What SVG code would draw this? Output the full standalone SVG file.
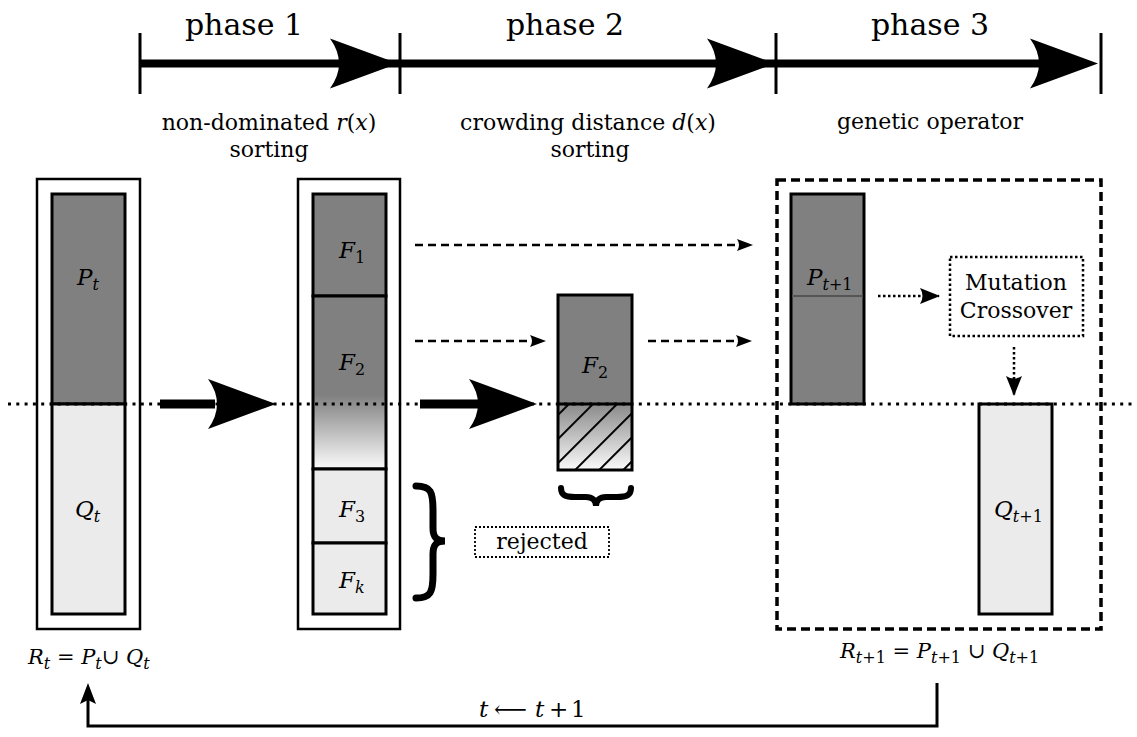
<svg xmlns="http://www.w3.org/2000/svg" width="1137" height="737" viewBox="0 0 1137 737">
<style>
.serif{font-family:"DejaVu Serif","Liberation Serif",serif;fill:#000}
.ph{font-size:30px}
.lb{font-size:22px}
.m{font-family:"DejaVu Serif","Liberation Serif",serif;font-style:italic;font-size:23px;fill:#000}
.f{font-size:21px}
.sub{font-size:16px}
.up{font-style:normal}
.box{stroke:#000;stroke-width:3}
.outer{fill:#fff;stroke:#000;stroke-width:2.5}
.dark{fill:#808080}
.light{fill:#ebebeb}
.dash{fill:none;stroke:#000;stroke-width:2.5;stroke-dasharray:8 5}
.dot{fill:none;stroke:#000;stroke-width:2.5;stroke-dasharray:2.5 2.5}
</style>
<defs>
<path id="bighead" d="M0,0 L-68,-25 Q-50,0 -68,25 Z" fill="#000"/>
<marker id="sm" viewBox="0 0 16 12" refX="15" refY="6" markerWidth="16" markerHeight="12" markerUnits="userSpaceOnUse" orient="auto">
<path d="M0,0 L16,6 L0,12 Q4,6 0,0 Z" fill="#000"/>
</marker>
<marker id="sm2" viewBox="0 0 20 16" refX="19" refY="8" markerWidth="20" markerHeight="16" markerUnits="userSpaceOnUse" orient="auto">
<path d="M0,0 L20,8 L0,16 Q5,8 0,0 Z" fill="#000"/>
</marker>
<linearGradient id="fade" gradientUnits="userSpaceOnUse" x1="0" y1="395" x2="0" y2="469">
<stop offset="0" stop-color="#808080"/>
<stop offset="1" stop-color="#fbfbfb"/>
</linearGradient>
<linearGradient id="fade2" gradientUnits="userSpaceOnUse" x1="0" y1="404" x2="0" y2="470">
<stop offset="0" stop-color="#8a8a8a"/>
<stop offset="1" stop-color="#fafafa"/>
</linearGradient>
<pattern id="hatch" patternUnits="userSpaceOnUse" width="17" height="17" patternTransform="rotate(45)">
<line x1="8" y1="0" x2="8" y2="17" stroke="#000" stroke-width="2"/>
</pattern>
</defs>

<g id="timeline">
<line x1="140" y1="63.5" x2="1060" y2="63.5" stroke="#000" stroke-width="8"/>
<g stroke="#000" stroke-width="3">
<line x1="140" y1="33" x2="140" y2="94"/>
<line x1="400" y1="33" x2="400" y2="94"/>
<line x1="776" y1="33" x2="776" y2="94"/>
<line x1="1101" y1="33" x2="1101" y2="94"/>
</g>
<use href="#bighead" transform="translate(398,63.5)"/>
<use href="#bighead" transform="translate(775,63.5)"/>
<use href="#bighead" transform="translate(1098,63.5)"/>
<text class="serif ph" x="244" y="35" text-anchor="middle">phase 1</text>
<text class="serif ph" x="565" y="35" text-anchor="middle">phase 2</text>
<text class="serif ph" x="930" y="35" text-anchor="middle">phase 3</text>
<text class="serif lb" x="269" y="130" text-anchor="middle">non-dominated <tspan font-style="italic">r</tspan>(<tspan font-style="italic">x</tspan>)</text>
<text class="serif lb" x="269" y="157" text-anchor="middle">sorting</text>
<text class="serif lb" x="588" y="130" text-anchor="middle">crowding distance <tspan font-style="italic">d</tspan>(<tspan font-style="italic">x</tspan>)</text>
<text class="serif lb" x="590" y="157" text-anchor="middle">sorting</text>
<text class="serif lb" x="930" y="129" text-anchor="middle">genetic operator</text>
</g>

<g id="R_t">
<rect class="outer" x="37" y="179" width="103" height="450"/>
<rect class="dark box" x="52" y="194" width="73" height="210"/>
<rect class="light box" x="52" y="404" width="73" height="210"/>
<text class="m" x="77" y="285">P<tspan class="sub" dy="5">t</tspan></text>
<text class="m" x="75" y="517">Q<tspan class="sub" dy="5">t</tspan></text>
<text class="m f" x="28" y="664">R<tspan class="sub" dy="5">t</tspan><tspan class="up" dy="-5"> = </tspan>P<tspan class="sub" dy="5">t</tspan><tspan class="up" dy="-5">∪ </tspan>Q<tspan class="sub" dy="5">t</tspan></text>
</g>

<g id="fronts">
<rect class="outer" x="298" y="179" width="102" height="450"/>
<rect class="dark box" x="313" y="194" width="73" height="102"/>
<rect x="313" y="296" width="73" height="173" fill="url(#fade)" class="box"/>
<rect class="light box" x="313" y="469" width="73" height="74"/>
<rect class="light box" x="313" y="543" width="73" height="71"/>
<text class="m" x="339" y="258">F<tspan class="sub up" dy="5">1</tspan></text>
<text class="m" x="339" y="370">F<tspan class="sub up" dy="5">2</tspan></text>
<text class="m" x="339" y="517">F<tspan class="sub up" dy="5">3</tspan></text>
<text class="m" x="339" y="588">F<tspan class="sub" dy="5">k</tspan></text>
</g>

<g id="F2_split">
<rect class="dark" x="558" y="295" width="74" height="109"/>
<rect x="558" y="404" width="74" height="66" fill="url(#fade2)"/>
<rect x="558" y="404" width="74" height="66" fill="url(#hatch)"/>
<rect x="558" y="295" width="74" height="175" fill="none" class="box"/>
<line x1="558" y1="404" x2="632" y2="404" stroke="#000" stroke-width="3"/>
<text class="m" x="582" y="373">F<tspan class="sub up" dy="5">2</tspan></text>
</g>

<g id="braces" fill="none" stroke="#000" stroke-linecap="round">
<path d="M416,486 C431,486 433,492 433,510 L433,528 C433,537 436,541 445,541 C436,541 433,545 433,554 L433,574 C433,592 431,598 416,598" stroke-width="7"/>
<path d="M561,488 C561,495 565,497 575,497 L586,497 C592,497 596,500 596,506 C596,500 600,497 606,497 L617,497 C627,497 631,495 631,488" stroke-width="6"/>
</g>

<g id="rejected">
<rect x="475" y="527" width="134" height="30" fill="none" stroke="#000" stroke-width="1.8" stroke-dasharray="2 2"/>
<text class="serif lb" x="542" y="549" text-anchor="middle">rejected</text>
</g>

<g id="phase3">
<rect x="777" y="180" width="324" height="449" fill="none" stroke="#000" stroke-width="3.5" stroke-dasharray="9 5"/>
<rect class="dark box" x="791" y="194" width="73" height="210"/>
<line x1="792" y1="296" x2="863" y2="296" stroke="#555" stroke-width="2"/>
<text class="m" x="807" y="285">P<tspan class="sub" dy="5">t</tspan><tspan class="sub up">+1</tspan></text>
<rect class="light box" x="979" y="404" width="73" height="210"/>
<text class="m" x="994" y="517">Q<tspan class="sub" dy="5">t</tspan><tspan class="sub up">+1</tspan></text>
<rect x="950" y="257" width="133" height="79" fill="#fff" stroke="#000" stroke-width="2.5" stroke-dasharray="2.5 2.5"/>
<text class="serif lb" x="1016" y="290" text-anchor="middle">Mutation</text>
<text class="serif lb" x="1016" y="318" text-anchor="middle">Crossover</text>
<text class="m f" x="840" y="658">R<tspan class="sub" dy="5">t</tspan><tspan class="sub up">+1</tspan><tspan class="up" dy="-5"> = </tspan>P<tspan class="sub" dy="5">t</tspan><tspan class="sub up">+1</tspan><tspan class="up" dy="-5"> ∪ </tspan>Q<tspan class="sub" dy="5">t</tspan><tspan class="sub up">+1</tspan></text>
</g>

<g id="connectors">
<line x1="160" y1="404" x2="215" y2="404" stroke="#000" stroke-width="9"/>
<use href="#bighead" transform="translate(276,404)"/>
<line x1="420" y1="404" x2="478" y2="404" stroke="#000" stroke-width="9"/>
<use href="#bighead" transform="translate(537,404)"/>
<line class="dash" x1="415" y1="245" x2="752" y2="245" marker-end="url(#sm)"/>
<line class="dash" x1="415" y1="341" x2="545" y2="341" marker-end="url(#sm)"/>
<line class="dash" x1="648" y1="341" x2="751" y2="341" marker-end="url(#sm)"/>
<line class="dot" x1="878" y1="296" x2="939" y2="296" marker-end="url(#sm2)"/>
<line class="dot" x1="1014" y1="347" x2="1014" y2="395" marker-end="url(#sm2)"/>
<polyline points="937,683 937,726 88,726 88,698" fill="none" stroke="#000" stroke-width="3"/>
<path d="M88,683 L96,704 L88,700 L80,704 Z" fill="#000"/>
<text class="m" y="717"><tspan x="479">t</tspan><tspan class="up" x="494">⟵</tspan><tspan x="535">t</tspan><tspan class="up" x="549">+</tspan><tspan class="up" x="571">1</tspan></text>
</g>

<line id="divider" x1="8" y1="404" x2="1132" y2="404" stroke="#000" stroke-width="3" stroke-dasharray="3 5.3"/>
</svg>
